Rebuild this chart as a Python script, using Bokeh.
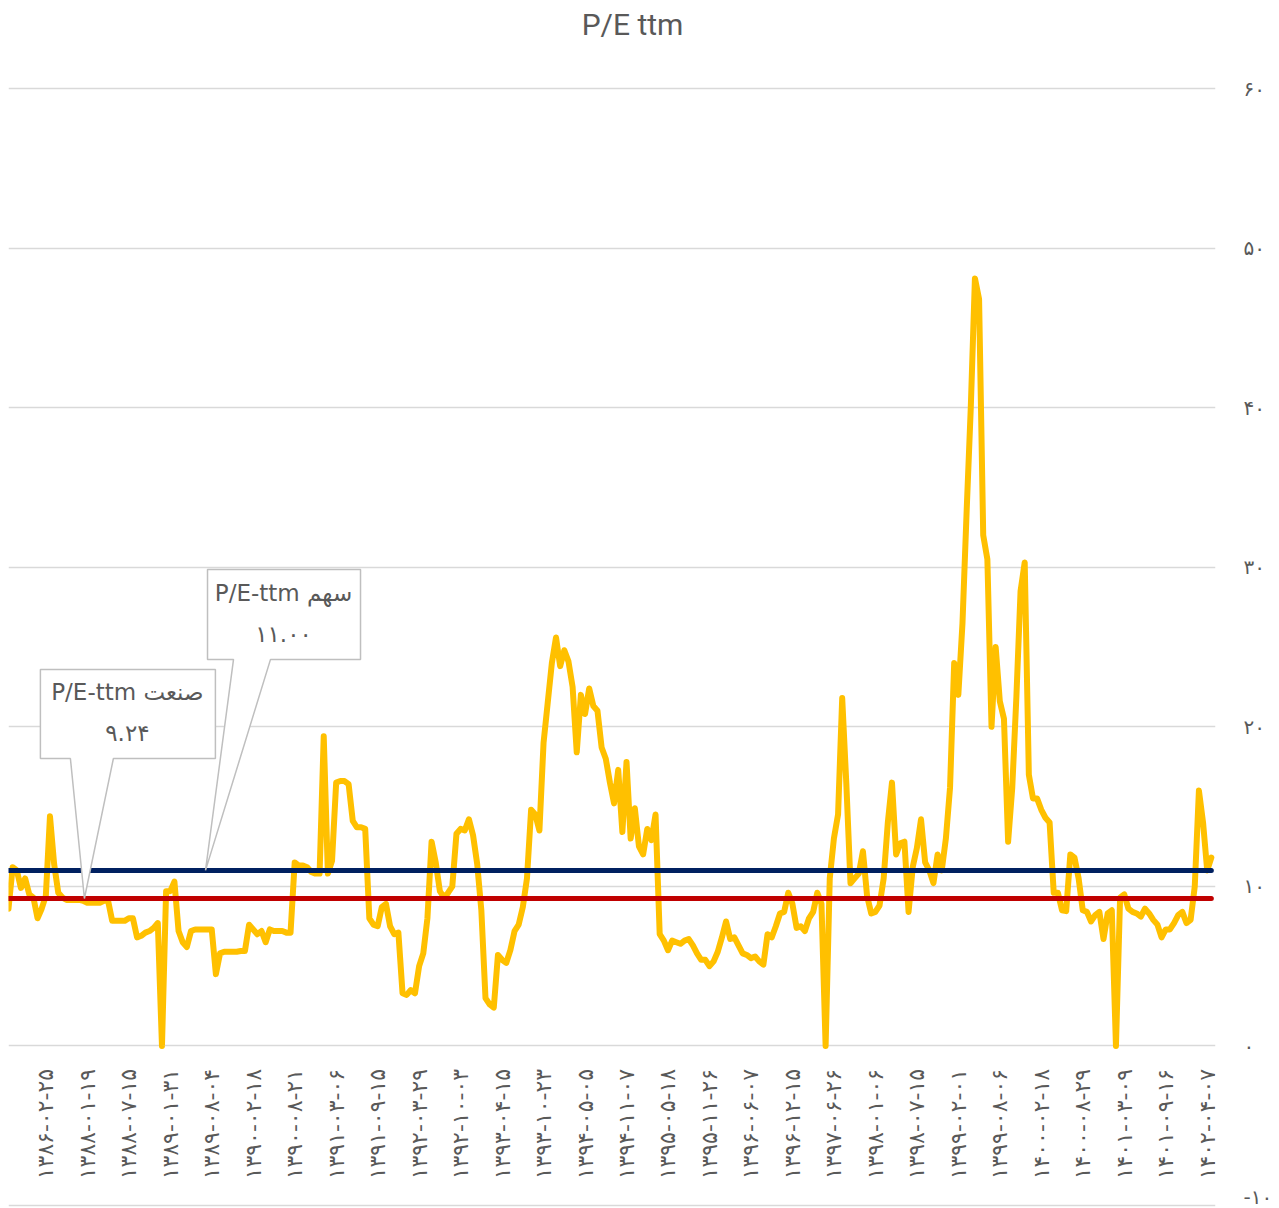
import math
from bokeh.plotting import figure
from bokeh.models import Range1d, FixedTicker, Label
from bokeh.core.properties import value
from bokeh.embed import file_html
from bokeh.resources import INLINE

# ---------------- data ----------------
pe_ttm = [
    8.6, 11.2, 11.0, 9.9, 10.5, 9.5, 9.3, 8.0, 8.6, 9.4,
    14.4, 11.4, 9.6, 9.3, 9.15, 9.15, 9.15, 9.15, 9.1, 8.97,
    8.97, 8.97, 8.97, 9.1, 9.1, 7.84, 7.84, 7.84, 7.84, 8.0,
    8.0, 6.8, 6.9, 7.1, 7.2, 7.4, 7.7, 0.0, 9.7, 9.7,
    10.3, 7.2, 6.5, 6.2, 7.2, 7.3, 7.3, 7.3, 7.3, 7.3,
    4.5, 5.8, 5.9, 5.9, 5.9, 5.9, 5.95, 5.95, 7.6, 7.3,
    7.0, 7.2, 6.5, 7.3, 7.2, 7.2, 7.2, 7.1, 7.1, 11.5,
    11.3, 11.3, 11.2, 10.9, 10.8, 10.8, 19.4, 10.8, 11.6, 16.5,
    16.6, 16.6, 16.4, 14.1, 13.7, 13.7, 13.6, 8.0, 7.6, 7.5,
    8.7, 8.9, 7.5, 7.0, 7.1, 3.3, 3.2, 3.5, 3.3, 5.0,
    5.8, 8.0, 12.8, 11.5, 9.7, 9.3, 9.6, 10.0, 13.3, 13.6,
    13.5, 14.2, 13.2, 11.4, 8.5, 3.0, 2.6, 2.4, 5.7, 5.4,
    5.2, 6.0, 7.2, 7.6, 8.7, 10.5, 14.8, 14.5, 13.5, 19.0,
    21.5, 24.0, 25.6, 23.8, 24.8, 24.1, 22.5, 18.4, 22.0, 20.8,
    22.4, 21.3, 21.0, 18.7, 18.0, 16.5, 15.2, 17.3, 13.4, 17.8,
    13.0, 14.9, 12.5, 12.0, 13.6, 12.9, 14.5, 7.0, 6.6, 6.0,
    6.6, 6.5, 6.4, 6.6, 6.7, 6.3, 5.8, 5.4, 5.4, 5.0,
    5.3, 5.9, 6.8, 7.8, 6.7, 6.8, 6.3, 5.8, 5.7, 5.5,
    5.6, 5.3, 5.1, 7.0, 6.8, 7.5, 8.3, 8.4, 9.6, 8.9,
    7.4, 7.5, 7.2, 8.0, 8.4, 9.6, 8.9, 0.0, 10.5, 13.0,
    14.5, 21.8, 16.4, 10.2, 10.5, 10.8, 12.2, 9.4, 8.3, 8.4,
    8.8, 10.5, 14.0, 16.5, 12.0, 12.7, 12.8, 8.4, 11.2, 12.4,
    14.2, 11.5, 11.0, 10.2, 12.0, 11.0, 13.0, 16.2, 24.0, 22.0,
    26.5, 33.5, 40.0, 48.1, 46.8, 32.0, 30.5, 20.0, 25.0, 21.6,
    20.5, 12.8, 16.2, 21.9, 28.5, 30.3, 17.0, 15.5, 15.5, 14.8,
    14.3, 14.0, 9.6, 9.6, 8.5, 8.45, 12.0, 11.8, 10.5, 8.5,
    8.4, 7.8, 8.2, 8.4, 6.7, 8.3, 8.5, 0.0, 9.3, 9.5,
    8.6, 8.4, 8.3, 8.1, 8.6, 8.3, 7.9, 7.6, 6.8, 7.3,
    7.3, 7.7, 8.2, 8.4, 7.7, 7.9, 10.0, 16.0, 14.0, 11.0,
    11.8,
]
industry_pe = 9.24   # P/E-ttm صنعت
stock_pe = 11.00     # P/E-ttm سهم

date_labels = [
    "۱۳۸۶-۰۲-۲۵", "۱۳۸۸-۰۱-۱۹", "۱۳۸۸-۰۷-۱۵", "۱۳۸۹-۰۱-۳۱", "۱۳۸۹-۰۸-۰۴",
    "۱۳۹۰-۰۲-۱۸", "۱۳۹۰-۰۸-۲۱", "۱۳۹۱-۰۳-۰۶", "۱۳۹۱-۰۹-۱۵", "۱۳۹۲-۰۳-۲۹",
    "۱۳۹۲-۱۰-۰۳", "۱۳۹۳-۰۴-۱۵", "۱۳۹۳-۱۰-۲۳", "۱۳۹۴-۰۵-۰۵", "۱۳۹۴-۱۱-۰۷",
    "۱۳۹۵-۰۵-۱۸", "۱۳۹۵-۱۱-۲۶", "۱۳۹۶-۰۶-۰۷", "۱۳۹۶-۱۲-۱۵", "۱۳۹۷-۰۶-۲۶",
    "۱۳۹۸-۰۱-۰۶", "۱۳۹۸-۰۷-۱۵", "۱۳۹۹-۰۲-۰۱", "۱۳۹۹-۰۸-۰۶", "۱۴۰۰-۰۲-۱۸",
    "۱۴۰۰-۰۸-۲۹", "۱۴۰۱-۰۳-۰۹", "۱۴۰۱-۰۹-۱۶", "۱۴۰۲-۰۴-۰۷",
]
label_first_index = 9
label_step = 10

y_ticks = [-10, 0, 10, 20, 30, 40, 50, 60]
y_tick_labels = ["-۱۰", "۰", "۱۰", "۲۰", "۳۰", "۴۰", "۵۰", "۶۰"]

chart_title = "P/E ttm"
callout_industry = ["P/E-ttm صنعت", "۹.۲۴"]
callout_stock = ["P/E-ttm سهم", "۱۱.۰۰"]

# ---------------- layout ----------------
N = len(pe_ttm)
xs = list(range(N))
W, H = 1279, 1208
LEFT, RIGHT_EDGE = 8, 1215          # frame left / right edge (page px)
FW = RIGHT_EDGE - LEFT
TOP_TICK_PX, BOT_TICK_PX = 88, 1205  # pixel rows of 60 and -10
Y_MIN_T, Y_MAX_T = -10, 60
ppy = (BOT_TICK_PX - TOP_TICK_PX) / (Y_MAX_T - Y_MIN_T)
# frame covers the full height; blank space above 60 hosts the title
y_top = Y_MAX_T + TOP_TICK_PX / ppy
y_bot = Y_MIN_T - (H - BOT_TICK_PX) / ppy
X0, X1 = 0, N
ppx = FW / (X1 - X0)

TXT = "#595959"
p = figure(frame_width=FW, frame_height=H, output_backend="svg", toolbar_location=None,
           x_range=Range1d(X0, X1), y_range=Range1d(y_bot, y_top),
           x_axis_location=None, y_axis_location="right",
           min_border_left=LEFT, min_border_right=W - RIGHT_EDGE, min_border_top=0, min_border_bottom=0)
p.outline_line_color = None
p.background_fill_color = "white"
p.border_fill_color = "white"

p.xgrid.visible = False
p.ygrid.ticker = FixedTicker(ticks=y_ticks)
p.ygrid.grid_line_color = "#D9D9D9"
p.ygrid.grid_line_width = 1.5

ax = p.yaxis[0]
ax.ticker = FixedTicker(ticks=y_ticks)
ax.major_label_overrides = {t: s for t, s in zip(y_ticks, y_tick_labels)}
ax.axis_line_color = None
ax.major_tick_line_color = None
ax.minor_tick_line_color = None
ax.major_tick_out = 0
ax.major_tick_in = 0
ax.major_label_standoff = 28
ax.major_label_text_font = "DejaVu Sans"
ax.major_label_text_font_size = "20px"
ax.major_label_text_color = TXT

# series
p.line(xs, pe_ttm, line_color="#FFC000", line_width=6, line_join="round", line_cap="round")
p.line(xs, [industry_pe] * N, line_color="#C00000", line_width=5, line_cap="round")
p.line(xs, [stock_pe] * N, line_color="#002060", line_width=5, line_cap="round")

# category labels hanging below the zero line
tick_idx = [label_first_index + label_step * k for k in range(len(date_labels))]
p.text(x=tick_idx, y=[0 - 23 / ppy] * len(tick_idx), text=date_labels, angle=math.pi / 2,
       text_align="right", text_baseline="middle", text_color=TXT,
       text_font=value("DejaVu Sans"), text_font_size="22px")


def callout(tip_x, tip_y, left, right, top, bottom, b1, b2, lines, text_dx, l1_dy, l2_dy):
    # offsets are screen pixels relative to the tip, converted to data units
    def X(d):
        return tip_x + d / ppx

    def Y(d):
        return tip_y + d / ppy
    px_ = [X(left), X(right), X(right), X(b2), tip_x, X(b1), X(left)]
    py_ = [Y(top), Y(top), Y(bottom), Y(bottom), tip_y, Y(bottom), Y(bottom)]
    p.patch(px_, py_, fill_color="white", line_color="#BFBFBF", line_width=1.5)
    for txt, dy in zip(lines, [l1_dy, l2_dy]):
        p.add_layout(Label(x=X(text_dx), y=Y(dy), text=txt, text_align="center",
                           text_baseline="middle", text_color=TXT,
                           text_font="DejaVu Sans", text_font_size="23px"))


callout(18.3, industry_pe, -44, 131, 229, 140, -14, 29, callout_industry, 43, 206, 165)
callout(47.5, stock_pe, 2, 155, 301, 211, 28, 65, callout_stock, 78, 277, 236)

# title (sits in the blank band above the 60 gridline)
p.add_layout(Label(x=632 - LEFT, x_units="screen", y=Y_MAX_T + (TOP_TICK_PX - 24) / ppy,
                   text=chart_title, text_align="center", text_baseline="middle",
                   text_color=TXT, text_font="Roboto", text_font_size="30px"))

open("out.html", "w").write(file_html(p, INLINE))
